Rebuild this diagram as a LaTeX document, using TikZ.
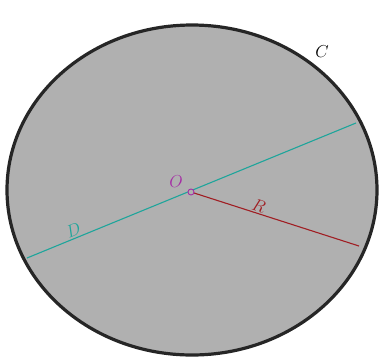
\documentclass[tikz,border=0pt]{standalone}
\usepackage{tikz}
\usepackage{xcolor}
\definecolor{diskgray}{RGB}{176,176,176}
\definecolor{diamcol}{RGB}{30,165,155}
\definecolor{radcol}{RGB}{160,30,35}
\definecolor{ctrcol}{RGB}{165,45,165}

\begin{document}
\begin{tikzpicture}[x=1pt,y=-1pt]
\useasboundingbox (0,0) rectangle (385,360);
\draw[line width=3.2pt,fill=diskgray,draw=black!85] (192,190) ellipse [x radius=185,y radius=165];
\coordinate (O) at (191,192);
\coordinate (d1) at (27,258);
\coordinate (d2) at (356,123);
\coordinate (r1) at (359,246);
\draw[diamcol,line width=1.1pt] (d1) -- node[pos=0.15,sloped,above,inner sep=1.5pt] {\LARGE$D$} (d2);
\draw[radcol,line width=1.1pt] (O) -- node[pos=0.39,sloped,above,inner sep=1.5pt] {\LARGE$R$} (r1);
\node[circle,draw=ctrcol,fill=diskgray,line width=0.9pt,inner sep=0pt,minimum size=6pt] (dot) at (O) {};
\node[ctrcol] (lo) at (176,182) {\LARGE$O$};
\node (lc) at (322,52) {\LARGE$C$};
\end{tikzpicture}
\end{document}
